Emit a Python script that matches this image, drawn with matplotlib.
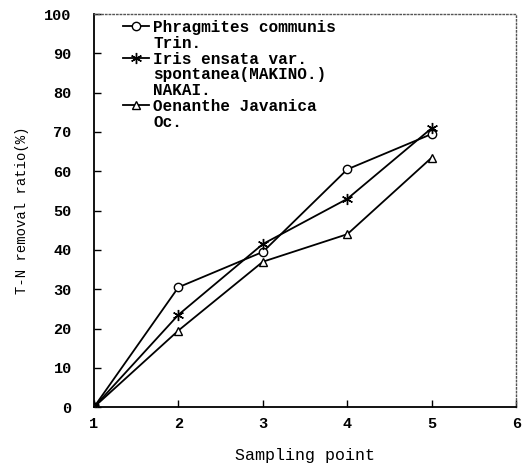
import numpy as np
import matplotlib.pyplot as plt
from matplotlib.lines import Line2D

# Данные
points = [1, 2, 3, 4, 5]
phragmites = [0, 30.5, 39.5, 60.5, 69.5]
iris = [0, 23.5, 41.5, 53.0, 71.0]
oenanthe = [0, 19.5, 37.0, 44.0, 63.5]

legend_labels = ["Phragmites communis", "Trin.",
                 "Iris ensata var.", "spontanea(MAKINO.)", "NAKAI.",
                 "Oenanthe Javanica", "Oc."]

plt.rcParams['font.family'] = ['Liberation Mono', 'DejaVu Sans Mono']
plt.rcParams['font.weight'] = 'bold'

fig = plt.figure(figsize=(5.22, 4.68), dpi=100)
ax = fig.add_axes([0.180, 0.130, 0.809, 0.840])

l1, = ax.plot(points, phragmites, '-', color='black', lw=1.3, marker='o',
              mfc='white', mec='black', ms=6, mew=1)
l2, = ax.plot(points, iris, '-', color='black', lw=1.3, marker=(6, 2, 0),
              mec='black', ms=8, mew=1)
l3, = ax.plot(points, oenanthe, '-', color='black', lw=1.3, marker='^',
              mfc='white', mec='black', ms=6, mew=1)

ax.set_xlim(1, 6)
ax.set_ylim(0, 100)
ax.set_xticks(np.arange(1, 7, 1))
ax.set_yticks(np.arange(0, 101, 10))
ax.tick_params(direction='in', length=5, width=1, labelsize=11, pad=7)
ax.tick_params(axis='y', pad=16)

for s in ['left', 'bottom']:
    ax.spines[s].set_linewidth(1.3)
for s in ['top', 'right']:
    ax.spines[s].set_linewidth(1)
    ax.spines[s].set_color('#555555')
    ax.spines[s].set_linestyle(':')

blank = Line2D([], [], color='none')
handles = [l1, blank, l2, blank, blank, l3, blank]
ax.legend(handles, legend_labels, loc='upper left', frameon=False,
          fontsize=11.5, labelspacing=0.05, handlelength=1.6, handletextpad=0.3,
          borderaxespad=0.1, bbox_to_anchor=(0.05, 1.005))

ax.set_xlabel("Sampling point", fontsize=12, labelpad=12)
ax.set_ylabel("T-N removal ratio(%)", fontsize=10, labelpad=11)

fig.savefig("out.png", dpi=100)
